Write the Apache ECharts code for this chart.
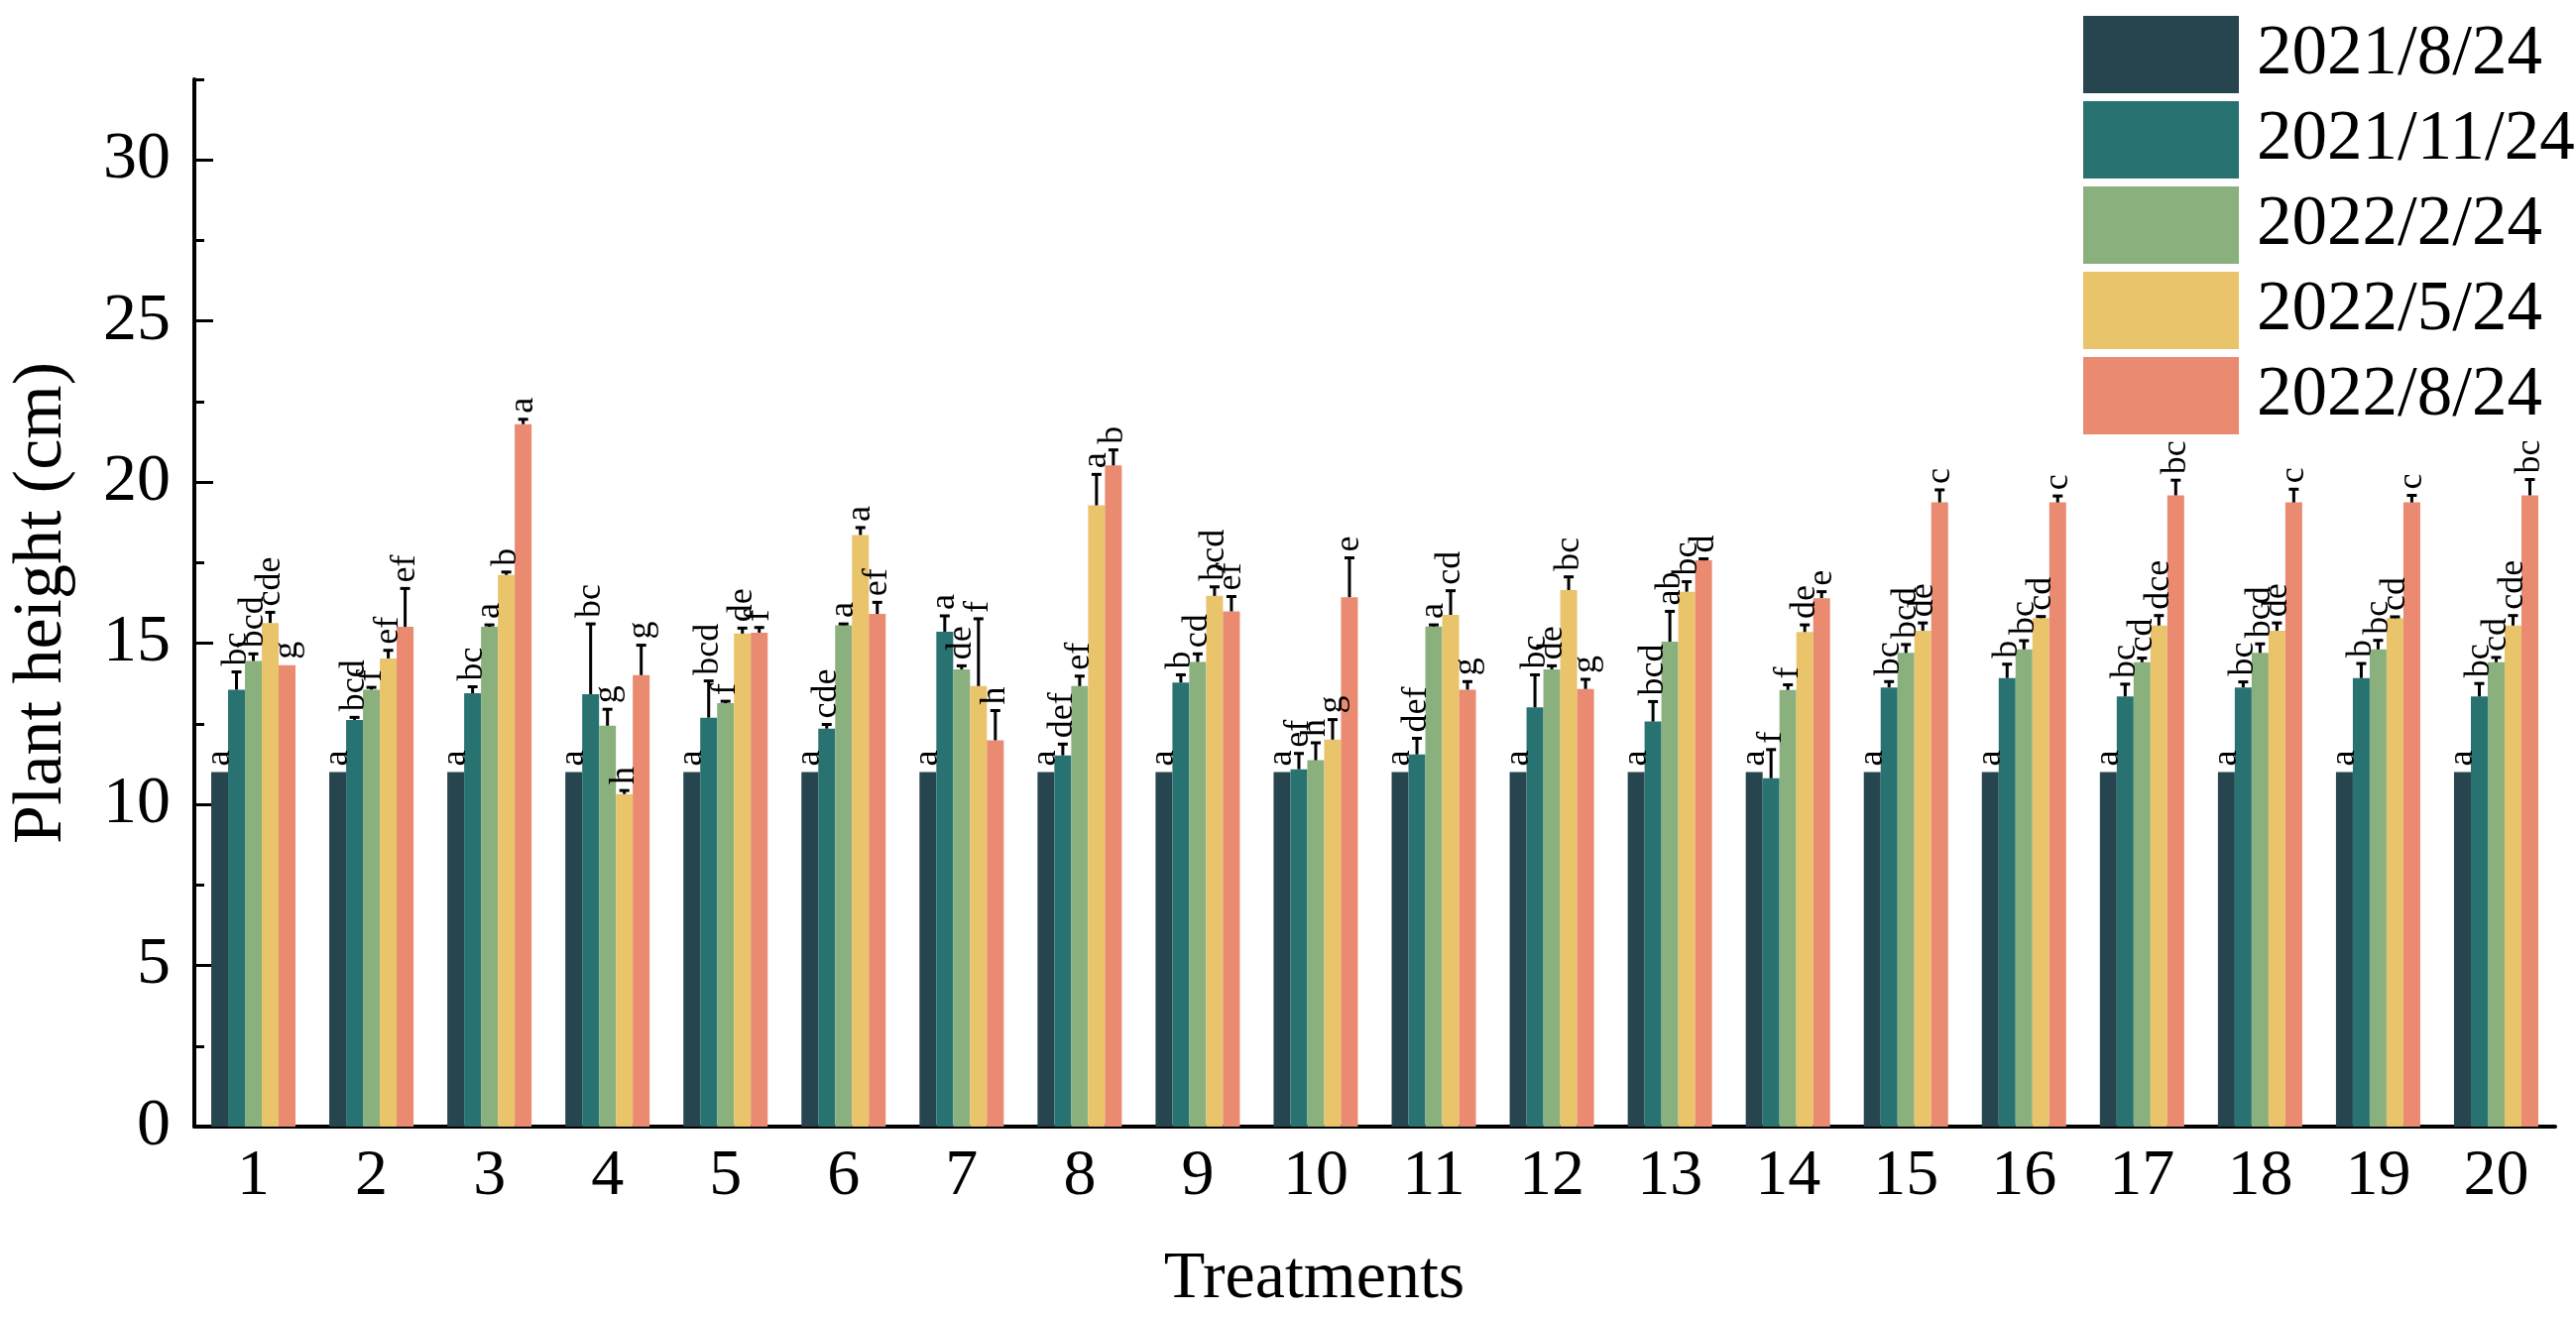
<!DOCTYPE html>
<html>
<head>
<meta charset="utf-8">
<script src="https://cdn.jsdelivr.net/npm/echarts@6/dist/echarts.min.js"></script>
<style>html,body{margin:0;padding:0;background:#fff;}#c{width:2598px;height:1329px;}</style>
</head>
<body>
<div id="c"></div>
<script>
const treatments = ['1','2','3','4','5','6','7','8','9','10','11','12','13','14','15','16','17','18','19','20'];
const dates = ['2021/8/24','2021/11/24','2022/2/24','2022/5/24','2022/8/24'];

const h0 = [11,11,11,11,11,11,11,11,11,11,11,11,11,11,11,11,11,11,11,11];
const h1 = [13.56,12.62,13.45,13.42,12.69,12.35,15.36,11.52,13.78,11.09,11.55,13.01,12.57,10.81,13.63,13.92,13.35,13.63,13.92,13.35];
const h2 = [14.45,13.56,15.51,12.44,13.14,15.56,14.19,13.67,14.42,11.37,15.52,14.19,15.05,13.55,14.70,14.81,14.41,14.70,14.81,14.41];
const h3 = [15.63,14.53,17.12,10.32,15.30,18.36,13.67,19.28,16.47,12.01,15.88,16.65,16.60,15.35,15.39,15.78,15.55,15.39,15.78,15.55];
const h4 = [14.32,15.51,21.80,14.01,15.33,15.91,11.99,20.52,15.99,16.43,13.56,13.58,17.57,16.40,19.37,19.37,19.59,19.37,19.37,19.59];

const e0 = [0,0,0,0,0,0,0,0,0,0,0,0,0,0,0,0,0,0,0,0];
const e1 = [0.55,0.08,0.20,2.18,1.14,0.13,0.49,0.35,0.24,0.49,0.50,1.01,0.62,0.89,0.18,0.43,0.38,0.17,0.45,0.40];
const e2 = [0.22,0.07,0.06,0.51,0.06,0.04,0.11,0.31,0.25,0.54,0.05,0.11,0.94,0.16,0.26,0.27,0.13,0.28,0.28,0.15];
const e3 = [0.33,0.25,0.09,0.11,0.17,0.23,2.09,0.96,0.28,0.62,0.75,0.41,0.31,0.22,0.24,0.05,0.31,0.24,0.04,0.31];
const e4 = [0,1.19,0.15,0.93,0.16,0.36,0.92,0.48,0.46,1.22,0.25,0.30,0.05,0.20,0.39,0.20,0.47,0.41,0.22,0.49];

const l0 = ['a','a','a','a','a','a','a','a','a','a','a','a','a','a','a','a','a','a','a','a'];
const l1 = ['bc','bcd','bc','bc','bcd','cde','a','def','b','ef','def','bc','bcd','f','bc','b','bc','bc','b','bc'];
const l2 = ['bcd','f','a','g','f','a','de','ef','cd','h','a','de','ab','f','bcd','bc','cd','bcd','bc','cd'];
const l3 = ['cde','ef','b','h','de','a','f','a','bcd','g','cd','bc','bc','de','de','cd','dce','de','cd','cde'];
const l4 = ['g','ef','a','g','f','ef','h','b','ef','e','g','g','d','e','c','c','bc','c','c','bc'];

const yMajorTicks = [0,5,10,15,20,25,30];

const heights = [h0,h1,h2,h3,h4];
const errors = [e0,e1,e2,e3,e4];
const letters = [l0,l1,l2,l3,l4];
const colors = ['#27454f','#287271','#8ab07d','#e9c46b','#e98a71'];
const FONT = '"Liberation Serif", "Times New Roman", serif';
const BAR_W = 17;

const series = [];
dates.forEach((d, s) => {
  series.push({
    name: d, type: 'bar', data: heights[s], barWidth: BAR_W, barGap: '0%',
    itemStyle: { color: colors[s] }, z: 2
  });
});
dates.forEach((d, s) => {
  series.push({
    type: 'custom', name: 'err' + s, z: 5, clip: false, silent: true,
    data: heights[s].map((v, i) => [i, v, errors[s][i]]),
    encode: { x: 0, y: 1 },
    renderItem: function (params, api) {
      const i = params.dataIndex;
      const v = api.value(1), e = api.value(2);
      const base = api.coord([i, v]);
      const top = api.coord([i, v + e]);
      const x = base[0] + (s - 2) * BAR_W;
      const children = [];
      if (e > 0) {
        children.push({ type: 'line', shape: { x1: x, y1: base[1], x2: x, y2: top[1] }, style: { stroke: '#000', lineWidth: 3 } });
        children.push({ type: 'line', shape: { x1: x - 5, y1: top[1], x2: x + 5, y2: top[1] }, style: { stroke: '#000', lineWidth: 3 } });
      }
      children.push({
        type: 'text', x: x, y: top[1] - 6, rotation: Math.PI / 2,
        style: { text: letters[s][i], fill: '#000', font: '36px ' + FONT, align: 'left', verticalAlign: 'middle' }
      });
      return { type: 'group', children: children };
    }
  });
});

const chart = echarts.init(document.getElementById('c'));
chart.setOption({
  animation: false,
  backgroundColor: '#fff',
  grid: { left: 193, right: 21, top: 80, bottom: 189 },
  legend: {
    data: dates, orient: 'vertical', left: 2096, top: 11,
    itemWidth: 157, itemHeight: 78, itemGap: 8, icon: 'rect',
    textStyle: { fontFamily: FONT, fontSize: 71, color: '#000', lineHeight: 78, padding: [0, 0, 0, 13] }
  },
  xAxis: {
    type: 'category', data: treatments,
    name: 'Treatments', nameLocation: 'middle', nameGap: 120,
    nameTextStyle: { fontFamily: FONT, fontSize: 68, color: '#000', padding: [0, 122, 0, 0] },
    axisLine: { lineStyle: { color: '#000', width: 4 } },
    axisTick: { alignWithLabel: true, inside: true, length: 19, lineStyle: { color: '#000', width: 3 } },
    axisLabel: { fontFamily: FONT, fontSize: 66, color: '#000', margin: 18 },
    splitLine: { show: false }
  },
  yAxis: [{
    type: 'value', min: 0, max: 32.5, interval: 5,
    name: 'Plant height (cm)', nameLocation: 'middle', nameGap: 118,
    nameTextStyle: { fontFamily: FONT, fontSize: 70, color: '#000' },
    axisLine: { show: true, lineStyle: { color: '#000', width: 4 } },
    axisTick: { show: true, inside: true, length: 19, customValues: yMajorTicks, lineStyle: { color: '#000', width: 3 } },
    axisLabel: { fontFamily: FONT, fontSize: 68, color: '#000', margin: 24, customValues: yMajorTicks },
    splitLine: { show: false }
  }, {
    type: 'value', min: 0, max: 32.5, interval: 2.5, position: 'left',
    axisLine: { show: false },
    axisTick: { show: true, inside: true, length: 10, lineStyle: { color: '#000', width: 3 } },
    axisLabel: { show: false },
    splitLine: { show: false }
  }],
  series: series
});
</script>
</body>
</html>
